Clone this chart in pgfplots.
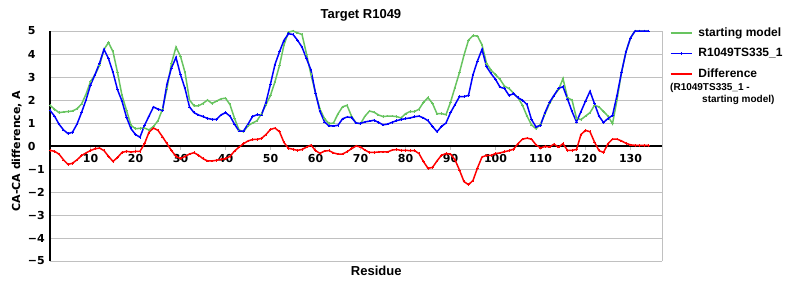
\documentclass[border=0pt]{standalone}
\usepackage{fontspec}
\setmainfont{Liberation Sans}
\newfontfamily\dejavu{DejaVu Sans}
\usepackage{pgfplots}
\pgfplotsset{compat=1.18}
\usepackage{pgfplotstable}
\definecolor{sgreen}{RGB}{104,196,96}
\definecolor{gridgray}{RGB}{192,192,192}

\pgfplotstableread{
r G B D
1 1.77 1.55 -0.19
2 1.60 1.30 -0.23
3 1.45 0.95 -0.35
4 1.48 0.70 -0.60
5 1.50 0.54 -0.80
6 1.52 0.60 -0.75
7 1.62 0.95 -0.60
8 1.82 1.45 -0.42
9 2.25 2.00 -0.30
10 2.80 2.65 -0.20
11 3.10 3.10 -0.12
12 3.50 3.60 -0.09
13 4.20 4.20 -0.20
14 4.50 3.80 -0.45
15 4.10 3.20 -0.67
16 3.20 2.45 -0.50
17 2.20 1.95 -0.28
18 1.55 1.25 -0.23
19 0.90 0.75 -0.26
20 0.75 0.50 -0.24
21 0.77 0.38 -0.23
22 0.78 0.90 0.10
23 0.70 1.30 0.60
24 0.85 1.70 0.78
25 1.10 1.60 0.68
26 1.60 1.55 0.40
27 2.50 2.70 0.10
28 3.60 3.40 -0.20
29 4.30 3.85 -0.45
30 3.90 3.10 -0.55
31 3.20 2.50 -0.45
32 2.00 1.70 -0.35
33 1.75 1.45 -0.29
34 1.75 1.35 -0.40
35 1.85 1.28 -0.55
36 2.00 1.20 -0.65
37 1.85 1.16 -0.65
38 1.95 1.16 -0.62
39 2.05 1.35 -0.58
40 2.08 1.45 -0.55
41 1.80 1.30 -0.45
42 1.20 0.95 -0.22
43 0.70 0.65 -0.05
44 0.62 0.65 0.10
45 0.88 0.95 0.22
46 1.00 1.28 0.28
47 1.10 1.36 0.29
48 1.40 1.35 0.33
49 1.80 1.90 0.50
50 2.20 2.70 0.72
51 2.80 3.55 0.78
52 3.50 4.10 0.62
53 4.40 4.60 0.15
54 4.95 4.88 -0.10
55 5.00 4.85 -0.14
56 4.92 4.60 -0.19
57 4.85 4.30 -0.15
58 4.00 3.80 -0.05
59 3.10 3.30 0.04
60 2.30 2.30 -0.20
61 1.60 1.50 -0.32
62 1.19 1.05 -0.22
63 0.97 0.87 -0.20
64 1.00 0.87 -0.30
65 1.40 0.90 -0.35
66 1.70 1.18 -0.35
67 1.77 1.26 -0.25
68 1.30 1.24 -0.12
69 1.00 1.00 0.00
70 0.97 0.98 -0.04
71 1.30 1.05 -0.18
72 1.52 1.08 -0.28
73 1.47 1.12 -0.28
74 1.35 1.03 -0.26
75 1.28 0.92 -0.26
76 1.30 0.95 -0.26
77 1.30 1.03 -0.18
78 1.28 1.10 -0.15
79 1.22 1.15 -0.19
80 1.40 1.19 -0.19
81 1.50 1.22 -0.20
82 1.50 1.27 -0.20
83 1.60 1.30 -0.33
84 1.90 1.22 -0.68
85 2.10 1.10 -0.97
86 1.85 0.85 -0.93
87 1.40 0.62 -0.65
88 1.41 0.85 -0.40
89 1.36 1.00 -0.33
90 1.90 1.45 -0.35
91 2.55 1.80 -0.60
92 3.20 2.15 -1.05
93 3.95 2.15 -1.55
94 4.60 2.20 -1.68
95 4.80 3.10 -1.50
96 4.78 3.70 -0.95
97 4.40 4.20 -0.48
98 3.60 3.45 -0.41
99 3.30 3.15 -0.41
100 3.10 2.90 -0.33
101 2.90 2.56 -0.30
102 2.60 2.50 -0.25
103 2.50 2.20 -0.20
104 2.30 2.27 -0.14
105 2.10 2.10 0.10
106 1.77 1.99 0.30
107 1.30 1.80 0.34
108 0.92 1.15 0.30
109 0.75 0.83 0.05
110 0.95 0.90 -0.08
111 1.40 1.45 -0.02
112 1.84 1.90 -0.04
113 2.20 2.20 0.08
114 2.45 2.50 -0.05
115 2.93 2.58 0.10
116 2.10 2.05 -0.19
117 2.00 1.50 -0.19
118 1.20 1.05 -0.15
119 1.15 1.50 0.50
120 1.30 1.95 0.68
121 1.45 2.38 0.62
122 1.77 1.84 0.17
123 1.70 1.30 -0.20
124 1.50 1.02 -0.28
125 1.30 1.20 0.10
126 0.97 1.33 0.30
127 2.00 2.20 0.30
128 3.20 3.20 0.22
129 4.10 4.10 0.12
130 4.70 4.70 0.05
131 5.00 5.00 0.03
132 5.00 5.00 0.03
133 5.00 5.00 0.03
134 5.00 5.00 0.03
}\datatable

\begin{document}
\begin{tikzpicture}[x=1pt,y=1pt]
\path[use as bounding box] (-50,-39) rectangle (750,261);
\begin{axis}[
  at={(0,0)}, anchor=south west,
  scale only axis, width=612pt, height=230pt,
  xmin=1, xmax=137, ymin=-5, ymax=5,
  axis x line=middle, axis y line=left,
  axis line style={-, black, line width=1.2pt},
  hide obscured x ticks=false, hide obscured y ticks=false,
  /pgf/number format/assume math mode=true,
  xtick={10,20,...,130},
  ytick={-5,-4,...,5},
  yticklabels={−5,−4,−3,−2,−1,0,1,2,3,4,5},
  ymajorgrids, major grid style={color=gridgray, line width=0.9pt},
  ytick style={draw=none},
  xtick style={draw=gridgray, line width=0.9pt},
  xtick align=outside, major tick length=4pt,
  xticklabel style={font=\dejavu\bfseries\fontsize{11}{13}\selectfont, anchor=north, inner sep=0pt, yshift=-4pt},
  yticklabel style={font=\dejavu\bfseries\fontsize{11}{13}\selectfont, anchor=east, inner sep=0pt, text width=20pt, align=left, xshift=0pt},
  clip=false,
  title={Target R1049},
  title style={at={(axis description cs:0.508,1)}, anchor=base, yshift=7pt, font=\bfseries\fontsize{13}{15}\selectfont, inner sep=0pt},
  xlabel={Residue},
  xlabel style={at={(axis description cs:0.533,0)}, anchor=base, yshift=-14pt, font=\bfseries\fontsize{13}{15}\selectfont, inner sep=0pt},
  ylabel={CA-CA difference, A},
  ylabel style={at={(axis description cs:-0.049,0.478)}, anchor=base, font=\dejavu\bfseries\fontsize{11}{13}\selectfont, inner sep=0pt},
  legend style={draw=none, fill=none, at={(axis description cs:1.013,1.017)}, anchor=north west, inner sep=0pt, outer sep=0pt, row sep=8.5pt, column sep=6pt, font=\bfseries\fontsize{12}{14}\selectfont, nodes={inner sep=0pt, text height=9pt, text depth=3pt}},
  legend cell align=left,
  legend image code/.code={\draw[mark repeat=2, mark phase=2, #1] plot coordinates {(0pt,0pt) (10.5pt,0pt) (21pt,0pt)};},
  every axis plot/.append style={line width=1.5pt, mark=+, mark size=1.3pt, mark options={line width=0.6pt}},
]
\draw[gridgray, line width=0.9pt] (rel axis cs:1,0) -- (rel axis cs:1,1);
\addplot[color=sgreen] table[x=r, y=G] {\datatable};
\addlegendentry{starting model}
\addplot[color=blue] table[x=r, y=B] {\datatable};
\addlegendentry{R1049TS335\_1}
\addplot[color=red] table[x=r, y=D] {\datatable};
\addlegendentry{Difference}
\end{axis}
\node[anchor=west, inner sep=0pt, font=\bfseries\fontsize{10}{12}\selectfont] at (620,173) {(R1049TS335\_1 -};
\node[anchor=west, inner sep=0pt, font=\bfseries\fontsize{10}{12}\selectfont] at (652,161) {starting model)};
\end{tikzpicture}
\end{document}
